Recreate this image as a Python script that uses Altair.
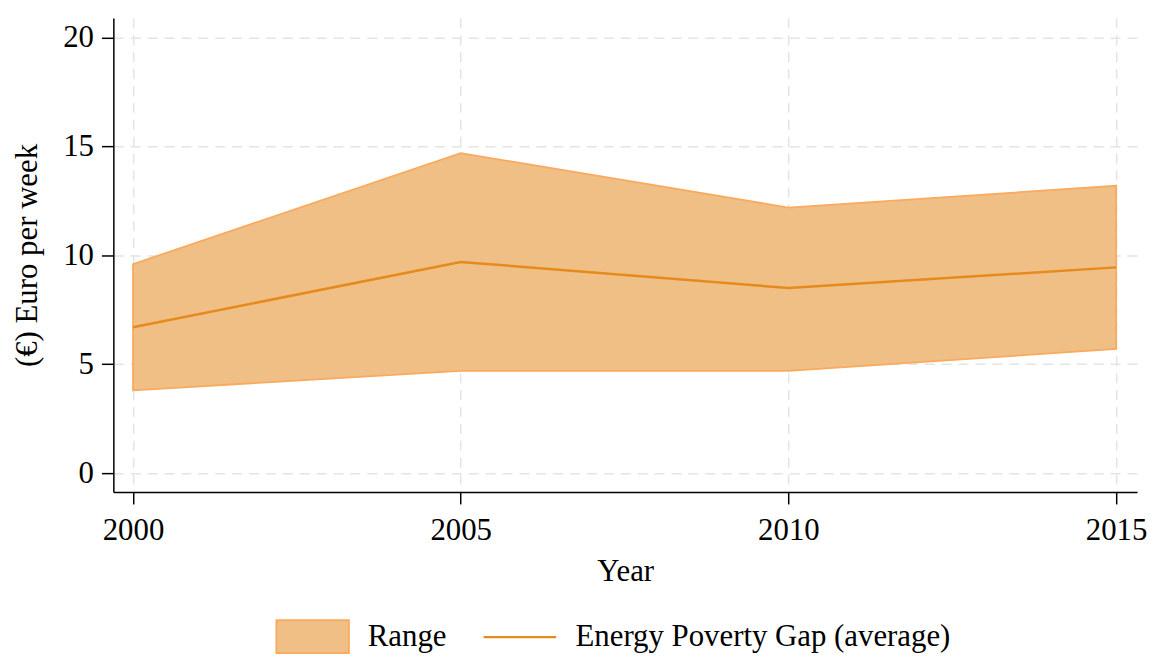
import altair as alt
import pandas as pd

years = [2000, 2005, 2010, 2015]
range_low = [3.8, 4.7, 4.7, 5.7]
range_high = [9.6, 14.7, 12.2, 13.2]
gap_avg = [6.7, 9.7, 8.5, 9.45]

df = pd.DataFrame({
    "year": years,
    "low": range_low,
    "high": range_high,
    "avg": gap_avg,
    "k_range": ["Range"] * 4,
    "k_avg": ["Energy Poverty Gap (average)"] * 4,
})

FONT = "Liberation Serif"
FILL = "#F0BF86"
EDGE = "#F9AA5E"
LINE = "#E68A1E"

x_enc = alt.X(
    "year:Q",
    scale=alt.Scale(domain=[1999.7, 2015.32], nice=False, zero=False),
    axis=alt.Axis(values=[2000, 2005, 2010, 2015], format="d", title="Year"),
)
y_scale = alt.Scale(domain=[-0.87, 20.91], nice=False, zero=False)
y_axis = alt.Axis(values=[0, 5, 10, 15, 20], title="(€) Euro per week")

area = alt.Chart(df).mark_area(
    stroke=EDGE, strokeWidth=1.8, opacity=1
).encode(
    x=x_enc,
    y=alt.Y("low:Q", scale=y_scale, axis=y_axis),
    y2="high:Q",
    fill=alt.Fill(
        "k_range:N",
        scale=alt.Scale(domain=["Range"], range=[FILL]),
        legend=alt.Legend(
            title=None,
            orient="none",
            legendX=163,
            legendY=585,
            symbolType="M-1,-0.452H1V0.452H-1Z",
            symbolSize=5329,
            symbolStrokeColor=EDGE,
            symbolStrokeWidth=1.8,
            symbolOpacity=1,
            labelOffset=18,
            labelLimit=600,
            padding=0,
        ),
    ),
)

line = alt.Chart(df).mark_line(strokeWidth=2.5).encode(
    x=x_enc,
    y=alt.Y("avg:Q", scale=y_scale),
    stroke=alt.Stroke(
        "k_avg:N",
        scale=alt.Scale(domain=["Energy Poverty Gap (average)"], range=[LINE]),
        legend=alt.Legend(
            title=None,
            orient="none",
            legendX=371,
            legendY=585,
            symbolType="stroke",
            symbolSize=5329,
            symbolStrokeWidth=2.5,
            labelOffset=18,
            labelLimit=600,
            padding=0,
        ),
    ),
)

chart = alt.layer(area, line).resolve_scale(fill="independent", stroke="independent").properties(
    width=1030,
    height=477,
    autosize=alt.AutoSizeParams(type="none"),
    padding={"left": 106, "top": 8, "right": 12, "bottom": 164},
).configure_view(
    stroke=None
).configure_axis(
    labelFont=FONT,
    labelFontSize=31,
    labelColor="black",
    titleFont=FONT,
    titleFontSize=31,
    titleFontWeight="normal",
    titleColor="black",
    domainColor="black",
    domainWidth=1.5,
    tickColor="black",
    tickWidth=1.5,
    tickSize=12,
    labelPadding=10,
    grid=True,
    gridColor="#e4e4e4",
    gridWidth=1.5,
    gridDash=[10, 7],
).configure_axisX(
    titlePadding=11,
    labelPadding=12,
).configure_axisY(
    titlePadding=19,
    labelPadding=8,
).configure_legend(
    labelFont=FONT,
    labelFontSize=31,
    labelColor="black",
)

chart.save("out.html", embed_options={"renderer": "svg", "actions": False})
